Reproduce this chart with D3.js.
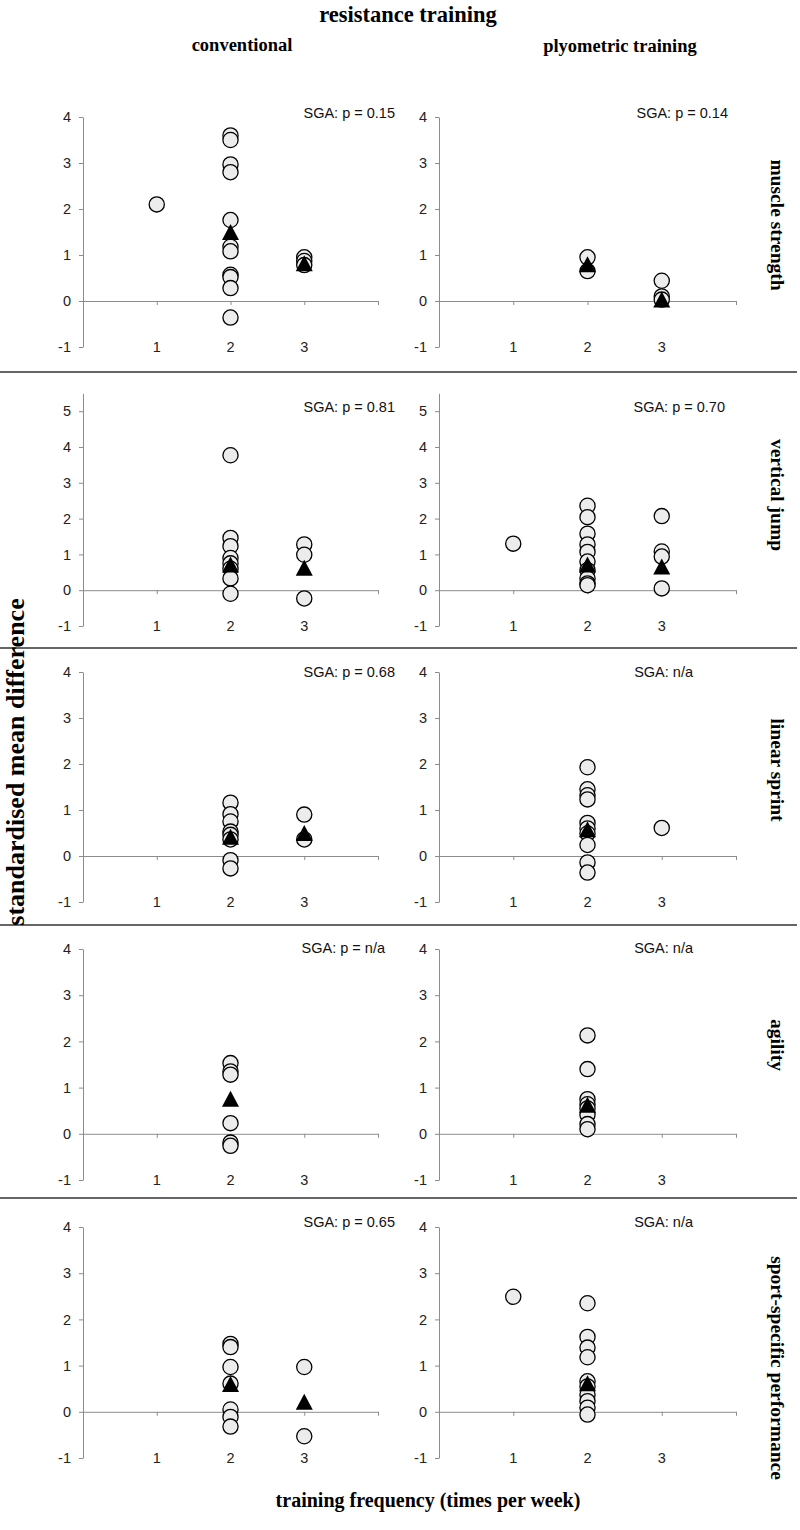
<!DOCTYPE html>
<html><head><meta charset="utf-8">
<script src="https://cdn.jsdelivr.net/npm/d3@7"></script>
<style>body{margin:0;background:#fff}</style>
</head><body>
<script>
// ---------- data ----------
const title = "resistance training";
const columns = ["conventional", "plyometric training"];
const outcomes = ["muscle strength", "vertical jump", "linear sprint", "agility", "sport-specific performance"];
const frequencies = [1, 2, 3];
const yMaxByRow = [4, 5.5, 4, 4, 4];
const yTicksByRow = [[-1,0,1,2,3,4],[-1,0,1,2,3,4,5],[-1,0,1,2,3,4],[-1,0,1,2,3,4],[-1,0,1,2,3,4]];
const sgaConventional = ["SGA: p = 0.15", "SGA: p = 0.81", "SGA: p = 0.68", "SGA: p = n/a", "SGA: p = 0.65"];
const sgaPlyometric = ["SGA: p = 0.14", "SGA: p = 0.70", "SGA: n/a", "SGA: n/a", "SGA: n/a"];

// study effect sizes: [frequency, SMD]
const strengthConv = [[1,2.1],[2,3.6],[2,3.5],[2,2.97],[2,2.8],[2,1.76],[2,1.18],[2,1.08],[2,0.57],[2,0.52],[2,0.28],[2,-0.36],[3,0.95],[3,0.87],[3,0.78]];
const strengthPlyo = [[2,0.95],[2,0.65],[3,0.44],[3,0.1],[3,0.03]];
const jumpConv = [[2,3.77],[2,1.46],[2,1.23],[2,0.9],[2,0.75],[2,0.6],[2,0.33],[2,-0.1],[3,1.28],[3,0.99],[3,-0.23]];
const jumpPlyo = [[1,1.3],[2,2.36],[2,2.04],[2,1.58],[2,1.28],[2,1.07],[2,0.8],[2,0.56],[2,0.33],[2,0.19],[2,0.14],[3,2.07],[3,1.08],[3,0.94],[3,0.05]];
const sprintConv = [[2,1.16],[2,0.91],[2,0.75],[2,0.53],[2,0.46],[2,0.36],[2,-0.09],[2,-0.27],[3,0.9],[3,0.36]];
const sprintPlyo = [[2,1.93],[2,1.45],[2,1.32],[2,1.23],[2,0.72],[2,0.6],[2,0.49],[2,0.24],[2,-0.14],[2,-0.36],[3,0.61]];
const agilityConv = [[2,1.53],[2,1.35],[2,1.28],[2,0.23],[2,-0.19],[2,-0.26]];
const agilityPlyo = [[2,2.13],[2,1.4],[2,0.75],[2,0.64],[2,0.55],[2,0.41],[2,0.21],[2,0.1]];
const sportConv = [[2,1.47],[2,1.4],[2,0.97],[2,0.61],[2,0.05],[2,-0.11],[2,-0.32],[3,0.97],[3,-0.53]];
const sportPlyo = [[1,2.49],[2,2.35],[2,1.62],[2,1.39],[2,1.18],[2,0.66],[2,0.55],[2,0.37],[2,0.23],[2,0.09],[2,-0.06]];

// pooled means: [frequency, SMD]
const strengthConvMean = [[2,1.5],[3,0.82]];
const strengthPlyoMean = [[2,0.8],[3,0.03]];
const jumpConvMean = [[2,0.72],[3,0.63]];
const jumpPlyoMean = [[2,0.72],[3,0.66]];
const sprintConvMean = [[2,0.42],[3,0.5]];
const sprintPlyoMean = [[2,0.58]];
const agilityConvMean = [[2,0.76]];
const agilityPlyoMean = [[2,0.63]];
const sportConvMean = [[2,0.6],[3,0.22]];
const sportPlyoMean = [[2,0.62]];

const studies = [[strengthConv, strengthPlyo],[jumpConv, jumpPlyo],[sprintConv, sprintPlyo],[agilityConv, agilityPlyo],[sportConv, sportPlyo]];
const means = [[strengthConvMean, strengthPlyoMean],[jumpConvMean, jumpPlyoMean],[sprintConvMean, sprintPlyoMean],[agilityConvMean, agilityPlyoMean],[sportConvMean, sportPlyoMean]];
const sga = [sgaConventional, sgaPlyometric];

// ---------- layout ----------
const W = 800, H = 1530;
const colX = [[83, 378], [439, 736]];
const rowBottom = [347, 626, 902, 1180, 1458];
const rowUnit = [46, 35.8, 46, 46.2, 46.2];
const separators = [372, 648, 925, 1198];
const sgaRight = [[395, 728], [395, 725], [395, 693], [385, 693], [395, 693]];
const sgaY = [113, 407, 672, 948, 1222];
const rowLabelY = [225, 495, 770, 1045, 1368];
const tickFont = "'Liberation Sans', Arial, sans-serif";
const serif = "'Liberation Serif', 'Times New Roman', serif";

const svg = d3.select("body").append("svg").attr("width", W).attr("height", H)
  .style("font-family", tickFont);

svg.append("text").attr("x", 408).attr("y", 22).attr("text-anchor", "middle")
  .style("font-family", serif).style("font-weight", "bold").style("font-size", "22.5px")
  .text(title);
const colTitleX = [242, 620], colTitleY = [51, 52];
columns.forEach((c, i) => {
  svg.append("text").attr("x", colTitleX[i]).attr("y", colTitleY[i]).attr("text-anchor", "middle")
    .style("font-family", serif).style("font-weight", "bold").style("font-size", "18.5px").text(c);
});

separators.forEach(y => {
  svg.append("line").attr("x1", 0).attr("x2", 797).attr("y1", y).attr("y2", y)
    .attr("stroke", "#333").attr("stroke-width", 1.3);
});

outcomes.forEach((name, r) => {
  const yMax = yMaxByRow[r];
  const y = d3.scaleLinear().domain([-1, yMax])
    .range([rowBottom[r], rowBottom[r] - rowUnit[r] * (yMax + 1)]);
  columns.forEach((c, ci) => {
    const x = d3.scaleLinear().domain([0, 4]).range(colX[ci]);
    const g = svg.append("g");
    const ya = g.append("g").attr("transform", `translate(${colX[ci][0]},0)`)
      .call(d3.axisLeft(y).tickValues(yTicksByRow[r]).tickSize(4).tickSizeOuter(0).tickPadding(8)
        .tickFormat(d => String(d)));
    const xa = g.append("g").attr("transform", `translate(0,${y(0)})`)
      .call(d3.axisBottom(x).tickValues([1,2,3,4]).tickSize(4).tickSizeOuter(0).tickFormat(""));
    [ya, xa].forEach(a => {
      a.selectAll("path,line").attr("stroke", "#8c8c8c");
      a.selectAll("text").attr("fill", "#222").style("font-size", "14.5px").style("font-family", tickFont);
    });
    g.selectAll("text.cat").data(frequencies).join("text").attr("class", "cat")
      .attr("x", d => x(d)).attr("y", y(-1)).attr("dy", "0.32em").attr("text-anchor", "middle")
      .attr("fill", "#222").style("font-size", "14.5px").text(d => d);
    g.append("text").attr("x", sgaRight[r][ci]).attr("y", sgaY[r])
      .attr("dy", "0.32em").attr("text-anchor", "end").attr("fill", "#111")
      .style("font-size", "14.5px").text(sga[ci][r]);
    g.selectAll("circle").data(studies[r][ci]).join("circle")
      .attr("cx", d => x(d[0])).attr("cy", d => y(d[1])).attr("r", 7.6)
      .attr("fill", "#ececec").attr("stroke", "#000").attr("stroke-width", 1.3);
    const tw = 8.5, th = 8;
    g.selectAll("path.tri").data(means[r][ci]).join("path").attr("class", "tri")
      .attr("d", d => {
        const cx = x(d[0]), cy = y(d[1]);
        return `M${cx},${cy - th}L${cx + tw},${cy + th}L${cx - tw},${cy + th}Z`;
      })
      .attr("fill", "#000");
  });
  svg.append("text").attr("transform", `translate(778,${rowLabelY[r]}) rotate(90)`)
    .attr("text-anchor", "middle").attr("dy", "0.35em")
    .style("font-family", serif).style("font-weight", "bold").style("font-size", "19.5px").text(name);
});

svg.append("text").attr("transform", "translate(15,762) rotate(-90)")
  .attr("text-anchor", "middle").attr("dy", "0.35em")
  .style("font-family", serif).style("font-weight", "bold").style("font-size", "26px")
  .text("standardised mean difference");

svg.append("text").attr("x", 428).attr("y", 1507).attr("text-anchor", "middle")
  .style("font-family", serif).style("font-weight", "bold").style("font-size", "20px")
  .text("training frequency (times per week)");
</script>
</body></html>
